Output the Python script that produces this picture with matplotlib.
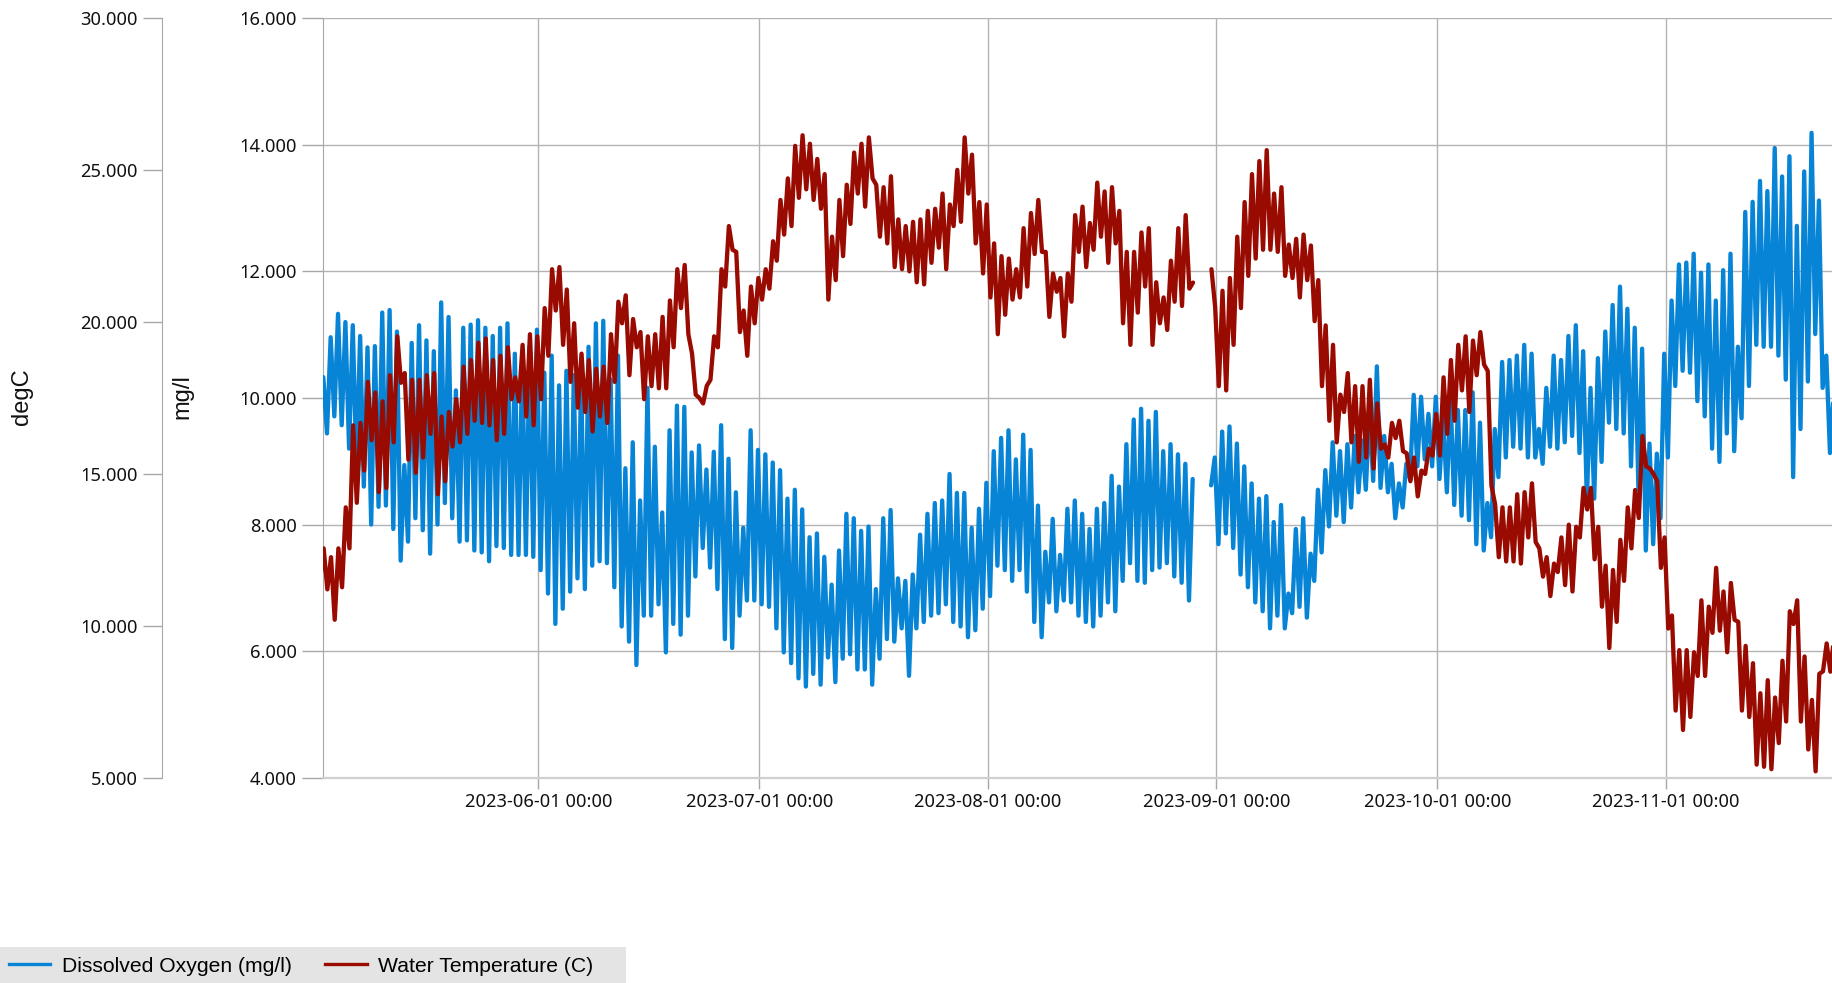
import numpy as np
import matplotlib
matplotlib.use('Agg')
import matplotlib.pyplot as plt
import matplotlib.dates as mdates
from matplotlib.patches import Rectangle
from matplotlib.lines import Line2D
from matplotlib.ticker import FuncFormatter, FixedLocator
from datetime import datetime

# ---------------- data (daily trough / peak values) -------------
# day n = 2023-05-01 + n days ; days 1..206 (2023-05-02 .. 2023-11-23)
DAYS = list(range(1, 207))

DO_MIN = [
    9.75, 9.44, 9.71, 9.57, 9.20, 8.90, 8.60, 8.00, 8.28, 8.30,
    7.93, 7.43, 7.73, 8.10, 7.91, 7.54, 8.00, 8.34, 8.10, 7.73,
    7.75, 7.59, 7.56, 7.42, 7.66, 7.63, 7.52, 7.52, 7.52, 7.49,
    7.28, 6.91, 6.43, 6.67, 6.94, 7.15, 6.98, 7.35, 7.42, 7.39,
    7.01, 6.39, 6.15, 5.78, 6.56, 6.56, 6.74, 5.98, 6.43, 6.26,
    6.56, 7.18, 7.63, 7.32, 6.98, 6.19, 6.05, 6.56, 6.80, 6.80,
    6.74, 6.70, 6.36, 5.98, 5.81, 5.57, 5.44, 5.64, 5.47, 5.90,
    5.51, 5.88, 5.95, 5.71, 5.71, 5.47, 5.88, 6.19, 6.15, 6.36,
    5.61, 6.36, 6.46, 6.56, 6.60, 6.74, 6.46, 6.39, 6.22, 6.33,
    6.67, 6.87, 7.35, 7.28, 7.11, 7.28, 6.94, 6.46, 6.22, 6.77,
    6.63, 6.80, 6.77, 6.56, 6.46, 6.39, 6.56, 6.77, 6.63, 7.11,
    7.39, 7.11, 7.08, 7.28, 7.32, 7.39, 7.18, 7.08, 6.80, np.nan,
    np.nan, 8.62, 7.69, 7.86, 7.63, 7.21, 7.01, 6.77, 6.63, 6.36,
    6.56, 6.36, 6.60, 6.70, 6.53, 7.11, 7.56, 7.97, 8.14, 8.04,
    8.27, 8.51, 8.55, 8.69, 8.58, 8.51, 8.10, 8.27, 8.72, 8.92,
    9.03, 8.92, 8.72, 8.51, 8.31, 8.14, 8.07, 7.69, 7.59, 7.80,
    8.75, 9.06, 9.23, 9.20, 9.06, 9.06, 8.96, 9.23, 9.20, 9.30,
    9.40, 9.13, 8.38, 8.41, 8.99, 9.61, 9.51, 9.44, 8.92, 8.55,
    7.59, 7.69, 8.10, 9.06, 10.19, 10.43, 10.40, 9.95, 9.71, 9.20,
    8.99, 9.44, 9.16, 9.68, 10.19, 10.84, 10.81, 10.81, 10.67, 10.29,
    8.75, 9.51, 10.26, 11.01, 10.16, 9.13,
]
DO_MAX = [
    10.33, 10.96, 11.33, 11.20, 11.15, 10.98, 10.80, 10.82, 11.35, 11.39,
    11.05, 8.94, 10.87, 11.15, 10.91, 10.74, 11.51, 11.28, 10.12, 11.11,
    11.16, 11.23, 11.11, 10.98, 11.11, 11.18, 10.70, 10.67, 10.81, 11.08,
    10.40, 10.67, 10.20, 10.43, 10.36, 10.33, 10.81, 11.18, 11.22, 10.29,
    10.67, 8.89, 9.30, 8.38, 10.16, 9.23, 8.19, 9.49, 9.88, 9.86,
    9.14, 9.25, 8.87, 9.15, 9.57, 9.04, 8.51, 7.95, 9.49, 9.18,
    9.11, 8.98, 8.86, 8.41, 8.55, 8.24, 7.80, 7.86, 7.49, 7.05,
    7.59, 8.17, 8.10, 7.90, 7.97, 6.98, 8.10, 8.23, 7.15, 7.11,
    7.21, 7.84, 8.17, 8.34, 8.38, 8.80, 8.50, 8.50, 7.95, 8.25,
    8.66, 9.16, 9.37, 9.49, 9.03, 9.42, 9.18, 8.30, 7.57, 8.09,
    7.52, 8.25, 8.38, 8.17, 7.93, 8.25, 8.34, 8.77, 8.60, 9.27,
    9.66, 9.83, 9.64, 9.78, 9.16, 9.27, 9.11, 8.96, 8.72, np.nan,
    np.nan, 9.06, 9.47, 9.55, 9.28, 8.92, 8.65, 8.41, 8.45, 8.04,
    8.31, 6.91, 7.93, 8.10, 7.54, 8.55, 8.86, 9.30, 9.16, 9.27,
    9.40, 9.33, 9.81, 10.50, 9.40, 8.96, 8.65, 8.96, 10.05, 10.02,
    9.75, 10.02, 9.68, 10.02, 9.81, 9.81, 10.09, 9.61, 8.34, 9.51,
    10.57, 10.60, 10.67, 10.84, 10.70, 9.51, 10.16, 10.67, 10.60, 10.98,
    11.15, 10.74, 10.16, 10.63, 11.05, 11.47, 11.76, 11.41, 11.11, 10.78,
    9.28, 9.12, 10.70, 11.54, 12.11, 12.14, 12.28, 11.98, 12.11, 11.54,
    12.02, 12.28, 10.81, 12.94, 13.10, 13.43, 13.27, 13.95, 13.50, 13.82,
    12.72, 13.58, 14.19, 13.12, 10.67, 10.09,
]
WT_MIN = [
    11.48, 11.20, 10.20, 11.27, 12.55, 14.05, 15.11, 16.11, 14.40, 14.54,
    16.04, 18.00, 15.47, 15.04, 15.54, 16.32, 14.33, 14.76, 15.90, 16.04,
    16.32, 16.75, 16.68, 16.60, 16.11, 16.32, 17.46, 17.39, 16.89, 16.60,
    17.46, 18.89, 20.38, 19.25, 18.03, 17.18, 17.04, 16.40, 16.89, 16.68,
    18.03, 19.96, 18.25, 19.17, 17.46, 17.89, 17.82, 17.82, 19.17, 20.46,
    19.60, 17.61, 17.32, 18.10, 19.17, 21.17, 22.38, 19.67, 18.89, 19.96,
    20.74, 21.10, 22.02, 22.88, 23.16, 24.09, 24.37, 24.02, 23.73, 20.74,
    21.38, 22.17, 23.23, 24.23, 23.80, 24.73, 22.81, 22.59, 21.81, 21.74,
    21.67, 21.31, 21.24, 21.95, 22.45, 21.74, 23.16, 23.30, 24.23, 22.59,
    21.60, 20.81, 19.60, 20.24, 20.74, 20.81, 21.17, 22.24, 22.31, 20.17,
    21.00, 19.53, 20.67, 22.31, 21.81, 22.38, 22.81, 21.95, 22.59, 19.96,
    19.25, 20.31, 21.17, 19.25, 19.96, 19.74, 20.67, 20.53, 21.10, np.nan,
    np.nan, 21.74, 17.89, 17.75, 19.25, 20.46, 21.52, 22.09, 22.38, 22.38,
    22.31, 21.52, 21.45, 20.81, 21.38, 20.03, 17.89, 16.75, 16.04, 17.04,
    16.04, 15.40, 15.54, 15.18, 15.83, 15.54, 16.18, 15.75, 14.76, 14.26,
    15.00, 15.60, 15.61, 16.32, 16.75, 17.75, 17.04, 18.25, 18.60, 14.62,
    12.26, 12.12, 12.12, 12.05, 12.91, 12.76, 11.62, 10.98, 11.77, 11.34,
    11.13, 12.91, 13.83, 12.19, 10.63, 9.27, 10.13, 11.48, 12.55, 13.55,
    15.25, 15.00, 11.91, 9.91, 7.21, 6.57, 7.00, 8.35, 8.35, 9.77,
    9.84, 9.13, 10.20, 7.21, 7.00, 5.43, 5.36, 5.28, 6.14, 6.85,
    10.06, 6.85, 5.93, 5.21, 8.50, 8.49,
]
WT_MAX = [
    12.55, 12.26, 12.55, 13.90, 16.60, 16.68, 18.03, 17.68, 17.39, 18.25,
    19.53, 18.32, 18.10, 18.10, 18.25, 18.32, 16.89, 17.04, 17.46, 18.53,
    18.75, 19.32, 19.46, 18.75, 18.89, 19.17, 18.18, 19.25, 19.60, 19.53,
    20.46, 21.74, 21.81, 21.07, 19.96, 18.96, 18.75, 18.46, 18.53, 19.60,
    20.67, 20.88, 20.10, 19.67, 19.53, 19.60, 20.17, 20.71, 21.74, 21.88,
    18.96, 17.50, 17.90, 19.53, 21.74, 23.16, 22.31, 20.38, 21.17, 21.45,
    21.74, 22.66, 24.02, 24.73, 25.80, 26.15, 25.87, 25.37, 24.87, 22.81,
    24.02, 24.52, 25.58, 25.87, 26.08, 24.52, 24.44, 24.80, 23.38, 23.16,
    23.30, 23.38, 23.66, 23.73, 24.23, 23.87, 25.01, 26.08, 25.51, 23.95,
    23.87, 22.59, 22.17, 22.09, 21.74, 23.09, 23.59, 24.02, 22.31, 21.60,
    21.45, 21.60, 23.52, 23.80, 23.26, 24.59, 24.30, 24.44, 23.66, 22.31,
    22.31, 22.95, 23.09, 21.31, 20.81, 22.02, 23.09, 23.52, 21.30, np.nan,
    np.nan, 20.50, 21.03, 21.45, 22.81, 23.95, 24.87, 25.30, 25.66, 24.23,
    24.44, 22.55, 22.74, 22.88, 22.52, 21.38, 19.89, 19.25, 17.61, 18.32,
    17.89, 17.89, 18.10, 17.32, 15.97, 16.68, 16.75, 15.68, 15.54, 15.11,
    15.83, 16.97, 18.18, 18.75, 19.25, 19.53, 19.39, 19.67, 18.39, 14.00,
    13.90, 13.90, 14.33, 14.40, 14.69, 12.55, 12.26, 12.05, 12.91, 13.33,
    13.26, 14.54, 14.54, 13.26, 11.98, 11.84, 12.83, 13.90, 14.47, 16.25,
    15.18, 14.76, 12.91, 10.34, 9.20, 9.20, 9.13, 10.84, 10.63, 11.91,
    11.13, 11.41, 10.13, 9.34, 8.77, 7.78, 8.21, 7.64, 8.85, 10.48,
    10.84, 8.99, 7.56, 8.42, 9.42, 9.63,
]

DO_TICKS = [4, 6, 8, 10, 12, 14, 16]
WT_TICKS = [5, 10, 15, 20, 25, 30]
SERIES_LABELS = ["Dissolved Oxygen (mg/l)", "Water Temperature (C)"]
AXIS_TITLES = ["degC", "mg/l"]

BLUE = "#0784d6"
RED = "#990a00"
GRID = "#b3b3b3"

plt.rcParams['font.family'] = ['Noto Sans', 'DejaVu Sans']

W, H = 1833, 983
fig = plt.figure(figsize=(W / 100, H / 100), dpi=100)
L = 322.7 / W
Bt = 1 - 777.7 / H
Tp = 1 - 18.3 / H
ax = fig.add_axes([L, Bt, 1.0 - L, Tp - Bt])
ax2 = ax.twinx()

base = mdates.date2num(datetime(2023, 5, 1))
d = np.array(DAYS, dtype=float)

t_do = np.empty(2 * len(d)); t_do[0::2] = d + 0.30; t_do[1::2] = d + 0.80
v_do = np.empty_like(t_do); v_do[0::2] = DO_MIN; v_do[1::2] = DO_MAX
t_wt = np.empty(2 * len(d)); t_wt[0::2] = d + 0.35; t_wt[1::2] = d + 0.85
v_wt = np.empty_like(t_wt); v_wt[0::2] = WT_MIN; v_wt[1::2] = WT_MAX

ax.plot(base + t_do, v_do, color=BLUE, lw=3.1, solid_joinstyle='round',
        solid_capstyle='round', zorder=3)
ax2.plot(base + t_wt, v_wt, color=RED, lw=3.1, solid_joinstyle='round',
         solid_capstyle='round', zorder=3)

ax.set_xlim(base + 1.72, base + 206.71)
ax.set_ylim(4, 16)
ax2.set_ylim(5, 30)

fmt3 = FuncFormatter(lambda v, p: f"{v:.3f}")
ax.yaxis.set_major_locator(FixedLocator(DO_TICKS))
ax.yaxis.set_major_formatter(fmt3)
ax2.yaxis.set_major_locator(FixedLocator(WT_TICKS))
ax2.yaxis.set_major_formatter(fmt3)

ax.xaxis.set_major_locator(mdates.MonthLocator(bymonthday=1))
ax.xaxis.set_major_formatter(mdates.DateFormatter('%Y-%m-%d %H:%M'))

ax.grid(True, color=GRID, lw=1.0)
ax.set_axisbelow(True)

for s in ['top', 'right']:
    ax.spines[s].set_visible(False)
ax.spines['left'].set_color('#a8a8a8')
ax.spines['bottom'].set_color('#cfcfcf')
ax.spines['bottom'].set_linewidth(1.6)

for s in ['top', 'right', 'bottom']:
    ax2.spines[s].set_visible(False)
ax2.spines['left'].set_visible(True)
ax2.spines['left'].set_position(('axes', (162.0 - 322.7) / (W - 322.7)))
ax2.spines['left'].set_color('#a8a8a8')
ax2.yaxis.set_ticks_position('left')
ax2.yaxis.set_label_position('left')

tick_kw = dict(labelsize=13.2, labelcolor='#111111', color='#a8a8a8', width=1.0)
ax.tick_params(axis='y', length=15, pad=3.5, **tick_kw)
ax2.tick_params(axis='y', length=14, pad=3.5, **tick_kw)
ax.tick_params(axis='x', length=7.7, pad=3.5, **tick_kw)

title_font = dict(family=['Liberation Sans', 'DejaVu Sans'], size=17, color='#111111')
fig.text(22 / W, 1 - 397 / H, AXIS_TITLES[0], rotation=90, ha='center', va='center', **title_font)
fig.text(182 / W, 1 - 397 / H, AXIS_TITLES[1], rotation=90, ha='center', va='center', **title_font)

# legend
fig.add_artist(Rectangle((0, 0), 626 / W, 36 / H, transform=fig.transFigure,
                         facecolor='#e4e4e4', edgecolor='none', zorder=0))
handles = [Line2D([], [], color=BLUE, lw=2.4), Line2D([], [], color=RED, lw=2.4)]
fig.legend(handles, SERIES_LABELS, loc='center left', bbox_to_anchor=(9 / W, 1 - 966 / H),
           ncol=2, frameon=False, borderpad=0, borderaxespad=0, handlelength=1.95,
           handletextpad=0.55, columnspacing=1.6,
           prop=dict(family=['Liberation Sans', 'DejaVu Sans'], size=15.2))

fig.savefig('out.png', dpi=100)
